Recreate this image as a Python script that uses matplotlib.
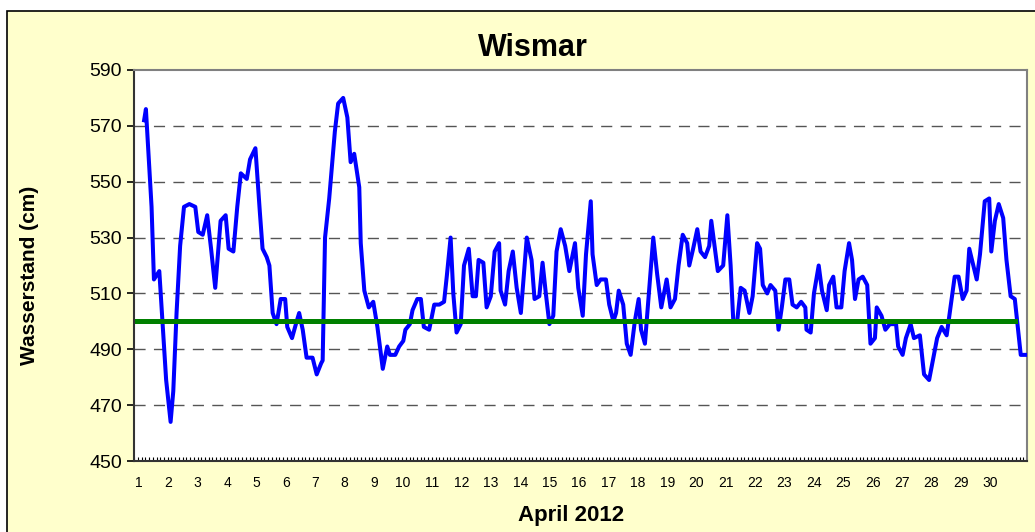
import numpy as np
import matplotlib
matplotlib.use("Agg")
import matplotlib.pyplot as plt
from matplotlib.patches import Rectangle

plt.rcParams['font.family'] = ['Liberation Sans', 'DejaVu Sans']

# water level Wismar, April 2012 (day of month, cm)
days = [1.33, 1.39, 1.58, 1.66, 1.84, 2.07, 2.22, 2.31, 2.42, 2.54, 2.67, 2.85,
        3.05, 3.15, 3.30, 3.45, 3.58, 3.72, 3.90, 4.07, 4.17, 4.33, 4.46, 4.58,
        4.78, 4.89, 5.07, 5.22, 5.31, 5.45, 5.54, 5.65, 5.78, 5.92, 6.07, 6.14,
        6.30, 6.43, 6.54, 6.66, 6.79, 6.99, 7.13, 7.28, 7.33, 7.41, 7.55, 7.74,
        7.85, 8.02, 8.16, 8.27, 8.39, 8.56, 8.61, 8.73, 8.88, 9.03, 9.17, 9.35,
        9.50, 9.59, 9.77, 9.90, 10.04, 10.11, 10.26, 10.35, 10.51, 10.63, 10.73,
        10.91, 11.08, 11.25, 11.41, 11.50, 11.63, 11.72, 11.83, 11.97, 12.08,
        12.24, 12.37, 12.48, 12.57, 12.73, 12.84, 12.98, 13.11, 13.26, 13.31,
        13.46, 13.58, 13.72, 13.85, 13.99, 14.19, 14.35, 14.45, 14.61, 14.72,
        14.83, 14.95, 15.08, 15.19, 15.33, 15.48, 15.62, 15.81, 15.92, 16.07,
        16.18, 16.34, 16.40, 16.54, 16.67, 16.85, 16.96, 17.10, 17.19, 17.28,
        17.43, 17.55, 17.68, 17.82, 17.95, 18.03, 18.16, 18.30, 18.44, 18.57,
        18.71, 18.89, 19.02, 19.17, 19.29, 19.43, 19.58, 19.65, 19.78, 19.92,
        20.03, 20.18, 20.32, 20.39, 20.61, 20.79, 20.93, 21.04, 21.13, 21.26,
        21.38, 21.51, 21.67, 21.78, 21.93, 22.03, 22.12, 22.27, 22.38, 22.54,
        22.65, 22.76, 22.88, 23.01, 23.12, 23.26, 23.41, 23.55, 23.59, 23.73,
        23.84, 24.00, 24.11, 24.27, 24.35, 24.49, 24.60, 24.76, 24.87, 25.02,
        25.12, 25.22, 25.34, 25.48, 25.63, 25.74, 25.89, 25.95, 26.11, 26.24,
        26.39, 26.60, 26.67, 26.82, 26.93, 27.09, 27.20, 27.40, 27.54, 27.71,
        27.98, 28.13, 28.30, 28.43, 28.57, 28.70, 28.84, 28.97, 29.06, 29.31,
        29.42, 29.58, 29.73, 29.80, 29.92, 30.05, 30.20, 30.31, 30.45, 30.59,
        30.79, 30.96]
level = [572, 576, 541, 515, 518, 479, 464, 475, 503, 527, 541, 542,
         541, 532, 531, 538, 526, 512, 536, 538, 526, 525, 541, 553,
         551, 558, 562, 539, 526, 523, 520, 503, 499, 508, 508, 498,
         494, 499, 503, 497, 487, 487, 481, 485, 486, 530, 544, 568,
         578, 580, 573, 557, 560, 548, 528, 511, 505, 507, 498, 483,
         491, 488, 488, 491, 493, 497, 499, 504, 508, 508, 498,
         497, 506, 506, 507, 516, 530, 510, 496, 499, 520,
         526, 509, 509, 522, 521, 505, 509, 525, 528, 511,
         506, 518, 525, 512, 503, 530, 522, 508, 509, 521,
         510, 499, 502, 525, 533, 527, 518, 528, 512, 502,
         524, 543, 524, 513, 515, 515, 506, 500, 503, 511,
         506, 492, 488, 500, 508, 497, 492, 511, 530, 517,
         505, 515, 505, 508, 520, 531, 528, 520, 526, 533,
         525, 523, 527, 536, 518, 520, 538, 520, 500, 500,
         512, 511, 503, 509, 528, 526, 513, 510, 513, 511,
         497, 505, 515, 515, 506, 505, 507, 505, 497, 496,
         510, 520, 511, 504, 513, 516, 505, 505, 518, 528,
         522, 508, 515, 516, 513, 492, 494, 505, 502, 497,
         499, 499, 491, 488, 494, 499, 494, 495, 481, 479,
         494, 498, 495, 505, 516, 516, 508, 511, 526, 515,
         524, 543, 544, 525, 536, 542, 537, 522, 509, 508,
         488, 488]

mean_level = 500
mean_days = [1.08, 30.59]
day_labels = [str(d) for d in range(1, 31)]

fig = plt.figure(figsize=(10.35, 5.32), dpi=100)
fig.patch.set_facecolor('white')
fig.patches.append(Rectangle((7 / 1035, -0.05), 1.1, 1 - 11 / 532 + 0.05,
                             transform=fig.transFigure, facecolor='#FFFFCC',
                             edgecolor='black', linewidth=1.2, zorder=-5))

ax = fig.add_axes([134.3 / 1035, 1 - 461 / 532, 892.7 / 1035, 391 / 532])
ax.set_zorder(2)
ax.set_facecolor('white')

ax.plot(days, level, color='#0000FF', linewidth=2.9, zorder=3)
ax.plot(mean_days, [mean_level, mean_level], color='#008000', linewidth=3.6, zorder=4)

ax.set_ylim(450, 590)
ax.set_yticks(np.arange(450, 591, 20))
ax.set_xlim(1, 31)
ax.set_xticks(1.16 + 0.986 * np.arange(30))
ax.set_xticklabels(day_labels, fontsize=10)
ax.set_xticks(np.arange(1, 31, 0.125), minor=True)
ax.tick_params(axis='x', which='major', length=0, pad=11)
ax.tick_params(axis='x', which='minor', direction='in', length=3, width=0.8)
ax.tick_params(axis='y', length=5, width=1.2, labelsize=14, pad=4)

for y in range(470, 571, 20):
    ax.axhline(y, color='#555555', linewidth=1, linestyle=(0, (8, 6)), zorder=1)

for s in ['top', 'right']:
    ax.spines[s].set_color('#808080')
    ax.spines[s].set_linewidth(1.5)
for s in ['left', 'bottom']:
    ax.spines[s].set_color('#333333')
    ax.spines[s].set_linewidth(1.5)

fig.text(533 / 1035, 1 - 48 / 532, 'Wismar', fontsize=22, fontweight='bold',
         ha='center', va='center')
fig.text(571 / 1035, 1 - 515 / 532, 'April 2012', fontsize=16, fontweight='bold',
         ha='center', va='center')
fig.text(30 / 1035, 1 - 275 / 532, 'Wasserstand (cm)', fontsize=15, fontweight='bold',
         ha='center', va='center', rotation=90)

fig.savefig('out.png', dpi=100, facecolor=fig.get_facecolor())
